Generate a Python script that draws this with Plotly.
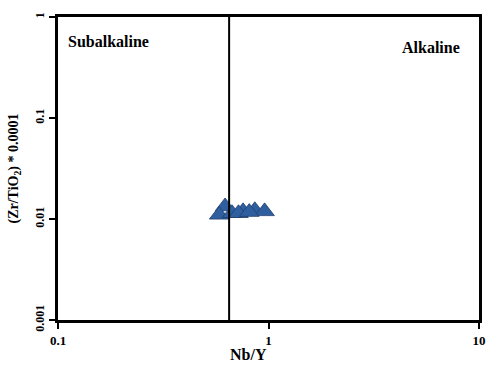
import plotly.graph_objects as go

nb_y = [0.622, 0.583, 0.671, 0.757, 0.861, 0.958, 0.72, 0.81]
zr_tio2 = [0.0133, 0.0110, 0.0114, 0.0119, 0.0122, 0.0119, 0.0114, 0.0117]

divider_x = 0.65
x_ticks = [0.1, 1, 10]
x_ticktext = ["0.1", "1", "10"]
y_ticks = [0.001, 0.01, 0.1, 1]
y_ticktext = ["0.001", "0.01", "0.1", "1"]

font_family = "Liberation Serif"

fig = go.Figure()
fig.add_trace(go.Scatter(
    x=nb_y, y=zr_tio2, mode="markers",
    marker=dict(symbol="triangle-up", size=17, color="#2F5F9E",
                line=dict(color="#1F3F6E", width=0.8)),
    showlegend=False, hoverinfo="skip"))

fig.add_shape(type="line", x0=divider_x, x1=divider_x, y0=0, y1=1,
              xref="x", yref="paper", line=dict(color="black", width=2))

fig.add_annotation(x=0.02, y=0.92, xref="paper", yref="paper", text="<b>Subalkaline</b>",
                   showarrow=False, xanchor="left", yanchor="middle",
                   font=dict(family=font_family, size=16, color="black"))
fig.add_annotation(x=0.96, y=0.90, xref="paper", yref="paper", text="<b>Alkaline</b>",
                   showarrow=False, xanchor="right", yanchor="middle",
                   font=dict(family=font_family, size=16, color="black"))
fig.add_annotation(x=0.453, y=-0.115, xref="paper", yref="paper", text="<b>Nb/Y</b>",
                   showarrow=False, xanchor="center", yanchor="middle",
                   font=dict(family=font_family, size=16, color="black"))

fig.update_layout(
    width=495, height=367,
    margin=dict(l=58, r=9, t=17, b=47),
    plot_bgcolor="white", paper_bgcolor="white",
    font=dict(family=font_family, color="black"),
    xaxis=dict(type="log", range=[-1, 1], tickvals=x_ticks, ticktext=["<b>%s</b>" % t for t in x_ticktext],
               showgrid=False, zeroline=False, showline=True, linecolor="black", linewidth=3,
               mirror=True, ticks="outside", ticklen=6, tickwidth=2, tickcolor="black",
               tickfont=dict(family=font_family, size=13)),
    yaxis=dict(type="log", range=[-3, 0], tickvals=y_ticks, ticktext=["<b>%s</b>" % t for t in y_ticktext],
               showgrid=False, zeroline=False, showline=True, linecolor="black", linewidth=3,
               mirror=True, ticks="outside", ticklen=6, tickwidth=2, tickcolor="black",
               tickangle=-90,
               tickfont=dict(family=font_family, size=12),
               title=dict(text="<b>(Zr/TiO<sub>2</sub>) * 0.0001</b>", font=dict(family=font_family, size=14), standoff=12)),
)

fig.write_html("out.html", config={"displayModeBar": False},
               post_script="document.body.style.margin='0';document.body.style.overflow='hidden';")
